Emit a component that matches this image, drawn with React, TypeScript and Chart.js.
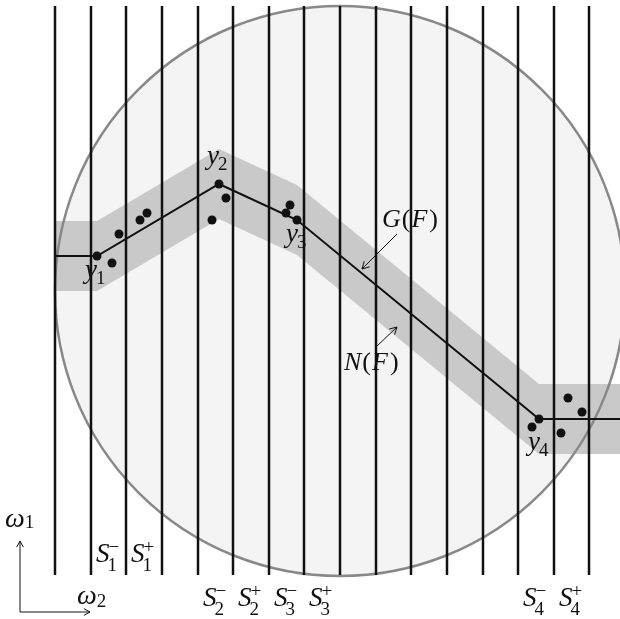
import React, { useEffect, useRef } from "react";
import { Chart, registerables } from "chart.js";

Chart.register(...registerables);

// ---- diagram data (diagram units: x 0..620 to the right, y 0..619 downwards) ----
const X_RANGE = [0, 620];
const Y_RANGE = [0, 619];

// vertical strip boundaries
const STRIP_X = [55, 91, 126, 162, 198, 233, 269, 304, 340, 376, 411, 447, 483, 518, 554, 589];
const STRIP_TOP = 6;
const STRIP_BOTTOM = 575;

// fitted polyline F
const PATH_X = [55, 97, 219, 297, 539, 620];
const PATH_Y = [256, 256, 184, 220, 419, 419];

// neighbourhood band N(F)
const BAND_UPPER_Y = [221, 221, 149, 185, 384, 384];
const BAND_LOWER_Y = [291, 291, 219, 255, 454, 454];

// sample points
const SAMPLE_X = [97, 112, 119, 140, 147, 219, 226, 212, 286, 290, 297, 539, 532, 561, 568, 582];
const SAMPLE_Y = [256, 263, 234, 220, 213, 184, 198, 220, 213, 205, 220, 419, 427, 433, 398, 412];

// ball
const BALL_CENTER_X = 340;
const BALL_CENTER_Y = 291;
const BALL_RADIUS = 285;

// vertex labels y_i
const VERTEX_SUBS = ["1", "2", "3", "4"];
const VERTEX_LABEL_X = [85, 207, 286, 528];
const VERTEX_LABEL_Y = [278, 164, 242, 450];

// strip labels S_i^±
const S_SUBS = ["1", "1", "2", "2", "3", "3", "4", "4"];
const S_SUPS = ["−", "+", "−", "+", "−", "+", "−", "+"];
const S_STRIP_INDEX = [1, 2, 4, 5, 6, 7, 13, 14];
const S_BASELINE = [562, 562, 606, 606, 606, 606, 606, 606];

const SERIF = '"Liberation Serif", "Times New Roman", serif';
const IT = (s: number) => `italic ${s}px ${SERIF}`;
const RM = (s: number) => `${s}px ${SERIF}`;

type Part = { t: string; font: string; dy?: number; dx?: number };

function drawRich(ctx: CanvasRenderingContext2D, parts: Part[], x: number, y: number) {
  let cx = x;
  for (const p of parts) {
    ctx.font = p.font;
    cx += p.dx || 0;
    ctx.fillText(p.t, cx, y + (p.dy || 0));
    cx += ctx.measureText(p.t).width;
  }
}

function drawArrow(ctx: CanvasRenderingContext2D, x1: number, y1: number, x2: number, y2: number, head = 7) {
  const a = Math.atan2(y2 - y1, x2 - x1);
  ctx.beginPath();
  ctx.moveTo(x1, y1);
  ctx.lineTo(x2, y2);
  ctx.moveTo(x2 - head * Math.cos(a - 0.5), y2 - head * Math.sin(a - 0.5));
  ctx.lineTo(x2, y2);
  ctx.lineTo(x2 - head * Math.cos(a + 0.5), y2 - head * Math.sin(a + 0.5));
  ctx.stroke();
}

const STRIP_DATASET_INDEX = 2;

const diagramPlugin = {
  id: "diagram",
  beforeDatasetsDraw(chart: any) {
    const { ctx, scales } = chart;
    const cx = scales.x.getPixelForValue(BALL_CENTER_X);
    const cy = scales.y.getPixelForValue(BALL_CENTER_Y);
    const r = scales.x.getPixelForValue(BALL_CENTER_X + BALL_RADIUS) - cx;
    ctx.save();
    ctx.beginPath();
    ctx.arc(cx, cy, r, 0, Math.PI * 2);
    ctx.fillStyle = "#f4f4f4";
    ctx.fill();
    ctx.restore();
  },
  beforeDatasetDraw(chart: any, args: any) {
    if (args.index !== STRIP_DATASET_INDEX) return;
    const { ctx, scales } = chart;
    const cx = scales.x.getPixelForValue(BALL_CENTER_X);
    const cy = scales.y.getPixelForValue(BALL_CENTER_Y);
    const r = scales.x.getPixelForValue(BALL_CENTER_X + BALL_RADIUS) - cx;
    ctx.save();
    ctx.beginPath();
    ctx.arc(cx, cy, r, 0, Math.PI * 2);
    ctx.strokeStyle = "#888888";
    ctx.lineWidth = 2.5;
    ctx.stroke();
    ctx.restore();
  },
  afterDatasetsDraw(chart: any) {
    const { ctx, scales } = chart;
    const px = (v: number) => scales.x.getPixelForValue(v);
    const py = (v: number) => scales.y.getPixelForValue(v);
    ctx.save();
    ctx.fillStyle = "#111";
    ctx.strokeStyle = "#111";
    ctx.textBaseline = "alphabetic";
    ctx.textAlign = "left";

    // vertex labels
    VERTEX_SUBS.forEach((s, i) => {
      drawRich(
        ctx,
        [
          { t: "y", font: IT(27) },
          { t: s, font: RM(19), dy: 6, dx: -1 },
        ],
        px(VERTEX_LABEL_X[i]),
        py(VERTEX_LABEL_Y[i])
      );
    });

    // strip labels
    S_SUBS.forEach((sub, i) => {
      const x0 = px(STRIP_X[S_STRIP_INDEX[i]] + 5);
      const yb = py(S_BASELINE[i]);
      ctx.font = IT(27);
      ctx.fillText("S", x0, yb);
      const w = ctx.measureText("S").width;
      ctx.font = RM(19);
      ctx.fillText(sub, x0 + w - 2, yb + 9);
      ctx.fillText(S_SUPS[i], x0 + w - 1, yb - 9);
    });

    // G(F), N(F)
    drawRich(
      ctx,
      [
        { t: "G", font: IT(26) },
        { t: "(", font: RM(26), dx: 1 },
        { t: "F", font: IT(26), dx: 1 },
        { t: ")", font: RM(26), dx: 2 },
      ],
      px(382),
      py(227)
    );
    drawRich(
      ctx,
      [
        { t: "N", font: IT(26) },
        { t: "(", font: RM(26), dx: 1 },
        { t: "F", font: IT(26), dx: 1 },
        { t: ")", font: RM(26), dx: 2 },
      ],
      px(344),
      py(370)
    );
    ctx.lineWidth = 1;
    drawArrow(ctx, px(397), py(234), px(362), py(269), 8);
    drawArrow(ctx, px(376), py(347), px(397), py(327), 8);

    // axis symbol
    drawArrow(ctx, px(20), py(612), px(20), py(541), 7);
    drawArrow(ctx, px(20), py(612), px(90), py(612), 7);
    drawRich(ctx, [{ t: "ω", font: IT(28) }, { t: "1", font: RM(19), dy: 1 }], px(5), py(527));
    drawRich(ctx, [{ t: "ω", font: IT(28) }, { t: "2", font: RM(19), dy: 3 }], px(77), py(604));
    ctx.restore();
  },
};

export default function App() {
  const ref = useRef<HTMLCanvasElement | null>(null);

  useEffect(() => {
    if (!ref.current) return;
    const pts = (xs: number[], ys: number[]) => xs.map((x, i) => ({ x, y: ys[i] }));
    const stripData: any[] = [];
    STRIP_X.forEach((x) => {
      stripData.push({ x, y: STRIP_TOP }, { x, y: STRIP_BOTTOM }, { x, y: null });
    });

    const chart = new Chart(ref.current, {
      type: "scatter",
      data: {
        datasets: [
          {
            label: "samples",
            data: pts(SAMPLE_X, SAMPLE_Y),
            showLine: false,
            pointRadius: 4.5,
            pointBackgroundColor: "#111",
            pointBorderWidth: 0,
          },
          {
            label: "F",
            data: pts(PATH_X, PATH_Y),
            showLine: true,
            borderColor: "#111",
            borderWidth: 2,
            pointRadius: 0,
          },
          {
            label: "strips",
            data: stripData,
            showLine: true,
            spanGaps: false,
            borderColor: "#111",
            borderWidth: 2.5,
            pointRadius: 0,
          },
          {
            label: "band lower",
            data: pts(PATH_X, BAND_LOWER_Y),
            showLine: true,
            borderWidth: 0,
            borderColor: "rgba(0,0,0,0)",
            backgroundColor: "#c8c9c8",
            fill: 4,
            pointRadius: 0,
          },
          {
            label: "band upper",
            data: pts(PATH_X, BAND_UPPER_Y),
            showLine: true,
            borderWidth: 0,
            borderColor: "rgba(0,0,0,0)",
            pointRadius: 0,
          },
        ],
      },
      options: {
        animation: false,
        responsive: false,
        events: [],
        layout: { padding: 0, autoPadding: false },
        scales: {
          x: { type: "linear", min: X_RANGE[0], max: X_RANGE[1], display: false },
          y: { type: "linear", min: Y_RANGE[0], max: Y_RANGE[1], reverse: true, display: false },
        },
        plugins: {
          legend: { display: false },
          tooltip: { enabled: false },
          title: { display: false },
        },
      } as any,
      plugins: [diagramPlugin],
    });
    return () => chart.destroy();
  }, []);

  return (
    <div style={{ position: "absolute", left: 0, top: 0, width: 620, height: 619, background: "#fff" }}>
      <canvas ref={ref} width={620} height={619} style={{ width: 620, height: 619, display: "block" }} />
    </div>
  );
}
